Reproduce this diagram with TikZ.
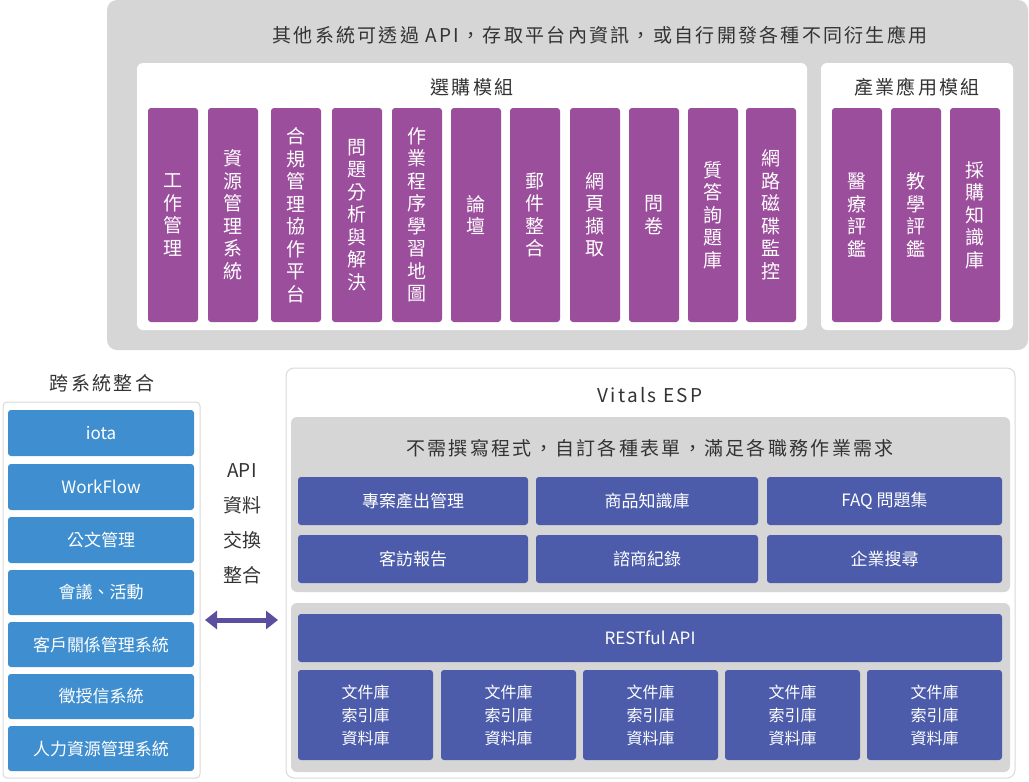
\documentclass[tikz,border=0pt]{standalone}
\usepackage{fontspec}
\usetikzlibrary{arrows.meta}
\setmainfont{Noto Sans CJK TC}
\newfontfamily\spaced[LetterSpace=12]{Noto Sans CJK TC}
\begin{document}
\begin{tikzpicture}[x=1pt,y=-1pt,
 grey/.style={fill=black!16,draw=none,rounded corners=10pt},
 white/.style={fill=white,draw=none,rounded corners=6pt},
 purp/.style={fill=purpleC,draw=none,rounded corners=3pt,text=white,font=\fontsize{19}{22.5}\selectfont,align=center},
 blu/.style={fill=blueC,draw=none,rounded corners=3pt,text=white,font=\fontsize{17}{20}\selectfont},
 dblu/.style={fill=dblueC,draw=none,rounded corners=3pt,text=white,font=\fontsize{17}{20}\selectfont,align=center},
 ttl/.style={font=\spaced\fontsize{19}{22}\selectfont,text=black!80}]
\definecolor{purpleC}{HTML}{9B4E9B}
\definecolor{blueC}{HTML}{3F8FD0}
\definecolor{dblueC}{HTML}{4C5CAA}
\definecolor{arrC}{HTML}{5B4E9E}
\useasboundingbox (0,0) rectangle (1029,782);
% top
\path[grey] (107,0) rectangle (1028,350);
\node[ttl] (t1) at (600,35) {其他系統可透過 API，存取平台內資訊，或自行開發各種不同衍生應用};
\path[white] (137,63) rectangle (807,330);
\path[white] (821,63) rectangle (1013,330);
\node[ttl] (t2) at (472,87) {選購模組};
\node[ttl] (t3) at (917,87) {產業應用模組};
\foreach \x/\t [count=\i] in {148/工\\作\\管\\理, 208/資\\源\\管\\理\\系\\統, 271/合\\規\\管\\理\\協\\作\\平\\台, 332/問\\題\\分\\析\\與\\解\\決, 392/作\\業\\程\\序\\學\\習\\地\\圖, 451/論\\壇, 510/郵\\件\\整\\合, 570/網\\頁\\擷\\取, 629/問\\卷, 688/質\\答\\詢\\題\\庫, 746/網\\路\\磁\\碟\\監\\控, 832/醫\\療\\評\\鑑, 891/教\\學\\評\\鑑, 950/採\\購\\知\\識\\庫}
 \node[purp,minimum width=50pt,minimum height=214pt] (p\i) at (\x+25,215) {\t};
% left
\node[ttl] (t4) at (102,383) {跨系統整合};
\path[fill=white,draw=black!15,line width=1pt,rounded corners=4pt] (3,402) rectangle (200,778);
\foreach \ya/\yb/\t [count=\i] in {410/456/iota,464/510/WorkFlow,517/563/公文管理,570/615/會議、活動,622/667/客戶關係管理系統,674/719/徵授信系統,726/771/人力資源管理系統}
 \node[blu,minimum width=186pt,minimum height=\yb-\ya] (l\i) at (101,{(\ya+\yb)/2}) {\t};
\node[ttl,align=center,font=\fontsize{19}{35}\selectfont] (api) at (242,524) {API\\資料\\交換\\整合};
\coordinate (a1) at (205,620); \coordinate (a2) at (278,620);
\draw[arrC,line width=5pt,{Triangle[length=12pt,width=18pt]}-{Triangle[length=12pt,width=18pt]}] (a1) -- (a2);
% right
\path[fill=white,draw=black!15,line width=1pt,rounded corners=8pt] (286,368) rectangle (1015,778);
\node[ttl] (t5) at (650,395) {Vitals ESP};
\path[grey,rounded corners=6pt] (291,417) rectangle (1010,592);
\node[ttl] (t6) at (650,448) {不需撰寫程式，自訂各種表單，滿足各職務作業需求};
\foreach \xa/\xb/\t/\n in {298/528/專案產出管理/a,536/758/商品知識庫/b,767/1002/FAQ 問題集/c}
 \node[dblu,minimum width=\xb-\xa,minimum height=48pt] (r1\n) at ({(\xa+\xb)/2},501) {\t};
\foreach \xa/\xb/\t/\n in {298/528/客訪報告/a,536/758/諮商紀錄/b,767/1002/企業搜尋/c}
 \node[dblu,minimum width=\xb-\xa,minimum height=48pt] (r2\n) at ({(\xa+\xb)/2},559) {\t};
\path[grey,rounded corners=6pt] (291,603) rectangle (1010,772);
\node[dblu,minimum width=704pt,minimum height=48pt] (rest) at (650,638) {RESTful API};
\foreach \xa [count=\i] in {298,441,583,725,867}
 \node[dblu,minimum width=135pt,minimum height=90pt,font=\fontsize{16}{23}\selectfont] (d\i) at (\xa+67.5,715) {文件庫\\索引庫\\資料庫};
\end{tikzpicture}
\end{document}
